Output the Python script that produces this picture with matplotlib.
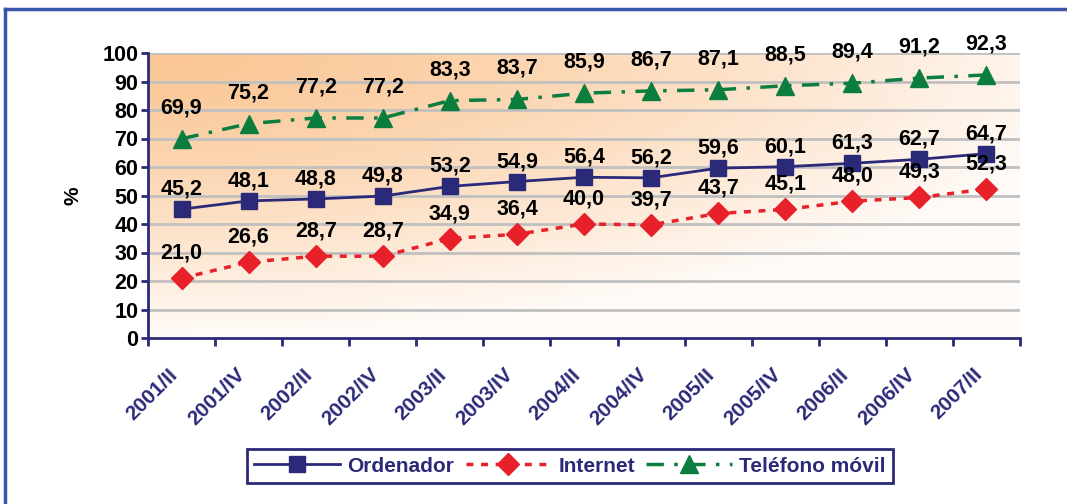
import numpy as np
import matplotlib
matplotlib.use("Agg")
import matplotlib.pyplot as plt
from matplotlib.lines import Line2D

plt.rcParams['font.family'] = ['Liberation Sans', 'DejaVu Sans']
plt.rcParams['font.weight'] = 'bold'

# data
periods = ['2001/II', '2001/IV', '2002/II', '2002/IV', '2003/II', '2003/IV', '2004/II',
           '2004/IV', '2005/II', '2005/IV', '2006/II', '2006/IV', '2007/II']
ordenador = [45.2, 48.1, 48.8, 49.8, 53.2, 54.9, 56.4, 56.2, 59.6, 60.1, 61.3, 62.7, 64.7]
internet = [21.0, 26.6, 28.7, 28.7, 34.9, 36.4, 40.0, 39.7, 43.7, 45.1, 48.0, 49.3, 52.3]
movil = [69.9, 75.2, 77.2, 77.2, 83.3, 83.7, 85.9, 86.7, 87.1, 88.5, 89.4, 91.2, 92.3]
yticks = list(range(0, 101, 10))

navy = '#2b2a78'
red = '#e8202a'
green = '#0b7d3e'
frame_blue = '#3a56a8'

fig = plt.figure(figsize=(10.67, 5.04), dpi=100)
ax = fig.add_axes([148 / 1067, 1 - 338 / 504, (1020 - 148) / 1067, (338 - 53) / 504])

# outer frame (left and top edges only)
fig.add_artist(Line2D([5 / 1067, 5 / 1067], [0, 1 - 9 / 504], color=frame_blue, lw=2.5,
                      transform=fig.transFigure))
fig.add_artist(Line2D([5 / 1067, 1], [1 - 9 / 504, 1 - 9 / 504], color=frame_blue, lw=2.5,
                      transform=fig.transFigure))

n = len(periods)
x = np.arange(n)

# corner gradient background: orange top-left fading to white
gx, gy = np.meshgrid(np.linspace(0, 1, 300), np.linspace(0, 1, 150))
t = np.clip(np.sqrt((gx / 1.1) ** 2 + gy ** 2), 0, 1) ** 1.3
c0 = np.array([250, 198, 148]) / 255
c1 = np.array([255, 251, 248]) / 255
img = c0[None, None, :] * (1 - t[..., None]) + c1[None, None, :] * t[..., None]
ax.imshow(img, extent=(-0.5, n - 0.5, 0, 100), aspect='auto', zorder=0, origin='upper')
ax.set_xlim(-0.5, n - 0.5)
ax.set_ylim(0, 100)

for yv in yticks[1:]:
    ax.axhline(yv, color='#c0c0c0', lw=2, zorder=1)

ax.plot(x, ordenador, color=navy, lw=2, marker='s', ms=12, mec=navy, zorder=4,
        label='Ordenador')
ax.plot(x, internet, color=red, lw=2.5, ls=(0, (2, 2.2)), marker='D', ms=11, mec=red,
        zorder=4, label='Internet')
ax.plot(x, movil, color=green, lw=2.5, ls=(0, (5, 3, 1, 3)), marker='^', ms=13, mec=green,
        zorder=4, label='Teléfono móvil')

def fmt(v):
    return f'{v:.1f}'.replace('.', ',')

for series, off in [(ordenador, 20), (internet, 25), (movil, 31)]:
    for xi, v in zip(x, series):
        ax.annotate(fmt(v), (xi, v), xytext=(0, off), textcoords='offset pixels',
                    ha='center', va='center', fontsize=15.5, fontweight='bold',
                    color='black', zorder=5)

for s in ['top', 'right']:
    ax.spines[s].set_visible(False)
for s in ['left', 'bottom']:
    ax.spines[s].set_color(navy)
    ax.spines[s].set_linewidth(2)
    ax.spines[s].set_zorder(6)

ax.set_yticks(yticks)
ax.set_yticklabels([str(v) for v in yticks])
ax.tick_params(axis='y', direction='out', length=5, width=2, color=navy, pad=2,
               labelsize=15.5, labelcolor='black')

ax.set_xticks(np.arange(-0.5, n, 1.0))
ax.set_xticklabels([])
ax.set_xticks(x, minor=True)
ax.set_xticklabels(periods, minor=True, rotation=45, ha='right', va='bottom',
                   rotation_mode='anchor', fontsize=15, fontweight='bold', color=navy)
ax.tick_params(axis='x', which='major', direction='out', length=6, width=2, color=navy)
ax.tick_params(axis='x', which='minor', length=0, pad=29)

fig.text(73 / 1067, 1 - 196 / 504, '%', rotation=90, ha='center', va='center',
         fontsize=15, fontweight='bold')

leg = fig.legend(loc='center', bbox_to_anchor=(570 / 1067, 1 - 466 / 504), ncol=3,
                 frameon=True, fancybox=False, framealpha=1, edgecolor=navy,
                 handlelength=4.1, handletextpad=0.35, columnspacing=0.55, numpoints=1,
                 borderpad=0.35, borderaxespad=0, prop={'size': 15, 'weight': 'bold'})
leg.get_frame().set_linewidth(2)
for txt in leg.get_texts():
    txt.set_color(navy)

fig.savefig('out.png', dpi=100, facecolor='white')
